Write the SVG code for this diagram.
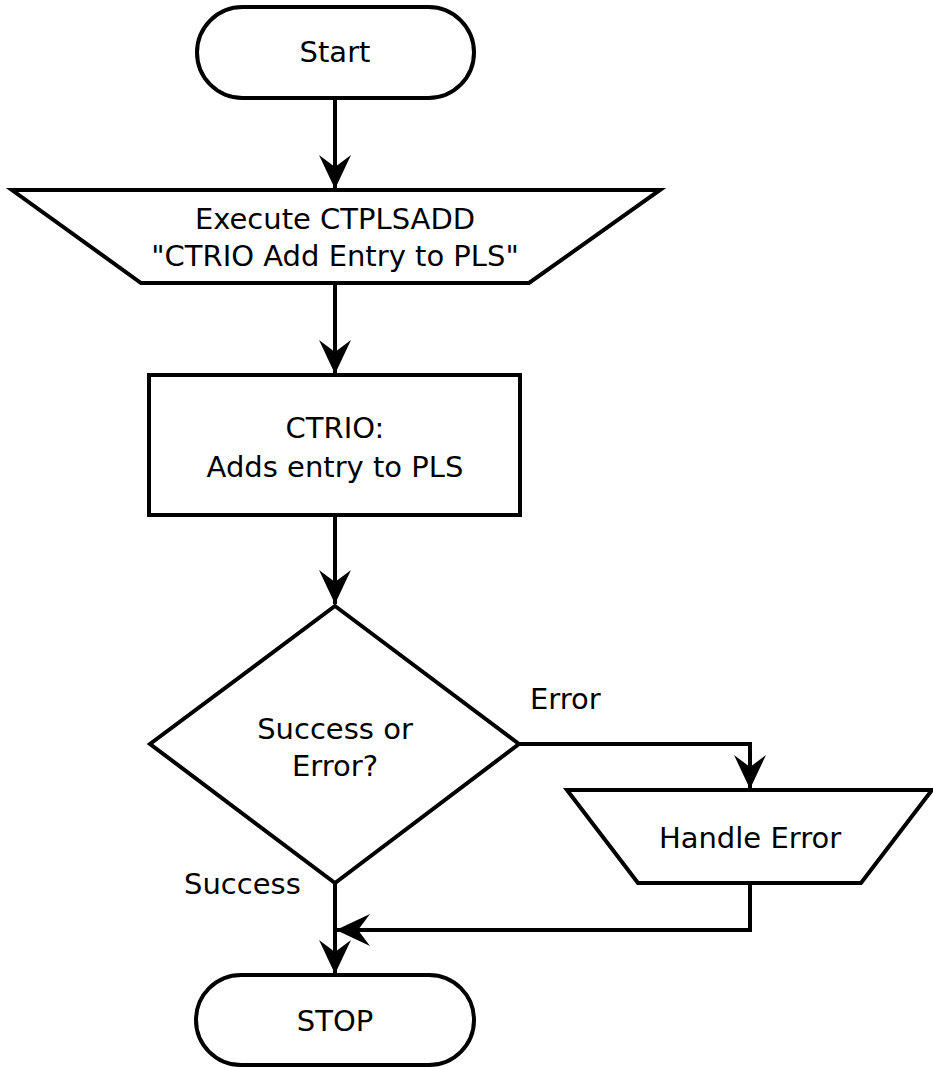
<svg xmlns="http://www.w3.org/2000/svg" width="933" height="1067" viewBox="0 0 933 1067">
<defs>
<style>
.s{fill:#fff;stroke:#000;stroke-width:4;stroke-linejoin:miter}
.c{fill:none;stroke:#000;stroke-width:4}
text{font-family:"DejaVu Sans","Liberation Sans",sans-serif;font-size:29px;fill:#000}
.m{text-anchor:middle}
</style>
<marker id="ah" markerUnits="userSpaceOnUse" markerWidth="40" markerHeight="40" viewBox="-36 -18 40 36" refX="0" refY="0" orient="auto">
<path d="M0,0 L-34,-16 L-22,0 L-34,16 Z" fill="#000"/>
</marker>
</defs>
<rect width="933" height="1067" fill="#fff"/>
<g id="connectors">
<path class="c" d="M335,99 L335,189" marker-end="url(#ah)"/>
<path class="c" d="M335,284 L335,374" marker-end="url(#ah)"/>
<path class="c" d="M335,516 L335,604" marker-end="url(#ah)"/>
<path class="c" d="M519,744 L750,744 L750,789" marker-end="url(#ah)"/>
<path class="c" d="M750,884 L750,930 L336,930" marker-end="url(#ah)"/>
<path class="c" d="M335,884 L335,974" marker-end="url(#ah)"/>
</g>
<g id="start">
<rect class="s" x="197" y="7" width="277" height="91" rx="45.5"/>
<text class="m" x="335" y="62">Start</text>
</g>
<g id="execute">
<path class="s" d="M12,190 L660,190 L529,283 L141,283 Z"/>
<text class="m" x="335" y="229">Execute CTPLSADD</text>
<text class="m" x="335" y="266">"CTRIO Add Entry to PLS"</text>
</g>
<g id="ctrio">
<rect class="s" x="149" y="375" width="371" height="140"/>
<text class="m" x="335" y="438">CTRIO:</text>
<text class="m" x="335" y="477">Adds entry to PLS</text>
</g>
<g id="decision">
<path class="s" d="M335,606 L519,744 L335,883 L150,744 Z"/>
<text class="m" x="335" y="739">Success or</text>
<text class="m" x="335" y="776">Error?</text>
</g>
<g id="label-error">
<text x="530" y="709">Error</text>
</g>
<g id="handle-error">
<path class="s" d="M567,790 L932,790 L861,883 L638,883 Z"/>
<text class="m" x="750" y="848">Handle Error</text>
</g>
<g id="label-success">
<text x="184" y="894">Success</text>
</g>
<g id="stop">
<rect class="s" x="196" y="975" width="278" height="90" rx="45"/>
<text class="m" x="335" y="1031">STOP</text>
</g>
</svg>
